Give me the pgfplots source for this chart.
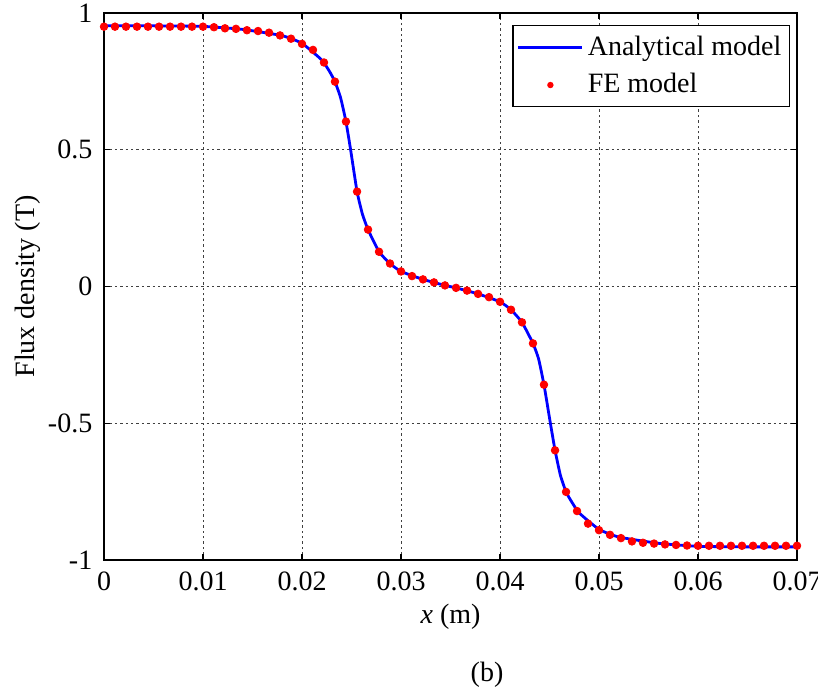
\documentclass[border=0pt]{standalone}
\usepackage{fontspec}
\setmainfont{Liberation Serif}
\usepackage{pgfplots}
\pgfplotsset{compat=1.18}
\usepackage{pgfplotstable}
\pgfplotstableread{
x y
0.00000 0.950
0.00111 0.950
0.00222 0.950
0.00333 0.950
0.00444 0.950
0.00556 0.950
0.00667 0.950
0.00778 0.950
0.00889 0.950
0.01000 0.950
0.01111 0.948
0.01222 0.944
0.01333 0.942
0.01444 0.937
0.01556 0.934
0.01667 0.928
0.01778 0.918
0.01889 0.906
0.02000 0.887
0.02111 0.865
0.02222 0.819
0.02333 0.749
0.02444 0.603
0.02556 0.347
0.02667 0.208
0.02778 0.127
0.02889 0.084
0.03000 0.055
0.03111 0.038
0.03222 0.026
0.03333 0.015
0.03444 0.004
0.03556 -0.005
0.03667 -0.015
0.03778 -0.027
0.03889 -0.039
0.04000 -0.056
0.04111 -0.085
0.04222 -0.131
0.04333 -0.208
0.04444 -0.359
0.04556 -0.599
0.04667 -0.751
0.04778 -0.821
0.04889 -0.867
0.05000 -0.891
0.05111 -0.908
0.05222 -0.920
0.05333 -0.932
0.05444 -0.937
0.05556 -0.940
0.05667 -0.943
0.05778 -0.945
0.05889 -0.947
0.06000 -0.948
0.06111 -0.948
0.06222 -0.948
0.06333 -0.948
0.06444 -0.948
0.06556 -0.948
0.06667 -0.948
0.06778 -0.948
0.06889 -0.948
0.07000 -0.948
}\fedata
\pgfplotstableread{
x y
0.00000 0.953
0.00500 0.953
0.01000 0.951
0.01400 0.940
0.01800 0.917
0.02000 0.889
0.02200 0.828
0.02280 0.785
0.02333 0.749
0.02390 0.690
0.02444 0.603
0.02491 0.500
0.02556 0.347
0.02610 0.265
0.02667 0.208
0.02778 0.127
0.02889 0.084
0.03000 0.055
0.03222 0.026
0.03444 0.004
0.03556 -0.005
0.03778 -0.027
0.04000 -0.056
0.04111 -0.085
0.04222 -0.131
0.04333 -0.208
0.04390 -0.265
0.04444 -0.359
0.04509 -0.500
0.04556 -0.599
0.04610 -0.690
0.04667 -0.751
0.04720 -0.785
0.04800 -0.828
0.05000 -0.888
0.05200 -0.916
0.05600 -0.939
0.06000 -0.950
0.06500 -0.952
0.07000 -0.952
}\andata
\begin{document}
\begin{tikzpicture}
\fontsize{14}{16}\selectfont
\path[use as bounding box] (0,0) rectangle (409pt,344.5pt);
\begin{axis}[
  at={(52pt,64.5pt)}, anchor=south west,
  width=346.5pt, height=273.5pt, scale only axis,
  xmin=0, xmax=0.07, ymin=-1, ymax=1,
  xtick={0,0.01,0.02,0.03,0.04,0.05,0.06,0.07},
  ytick={-1,-0.5,0,0.5,1},
  scaled x ticks=false, scaled y ticks=false,
  /pgf/number format/assume math mode=true,
  /pgf/number format/fixed,
  /pgf/number format/precision=2,
  tick align=inside, major tick length=3pt,
  tick style={black, line width=0.6pt},
  axis line style={line width=0.8pt},
  grid=major,
  major grid style={black!75, line width=0.5pt, dash pattern=on 1.2pt off 1.5pt},
  ticklabel style={font=\fontsize{14}{16}\selectfont},
  xticklabel style={yshift=-1pt},
  yticklabel style={xshift=-1pt},
  label style={font=\fontsize{14}{16}\selectfont},
  xlabel={\textit{x} (m)},
  ylabel={Flux density (T)},
  xlabel style={yshift=3pt},
  ylabel style={yshift=-6pt},
  legend style={at={(1,1)}, xshift=-3.5pt, yshift=-6pt, anchor=north east,
    draw=black, line width=0.6pt, font=\fontsize{14}{16}\selectfont,
    inner xsep=2pt, inner ysep=3pt, row sep=3pt, cells={anchor=west}},
  legend cell align=left,
]
\addplot[blue, line width=1.4pt, smooth, tension=0.3,
  legend image code/.code={\draw[blue, line width=1.4pt] (0pt,0pt) -- (32pt,0pt);}]
  table[x=x,y=y] {\andata};
\addlegendentry{Analytical model}
\addplot[only marks, mark=*, mark size=1.9pt, red, mark options={draw=red, fill=red},
  legend image code/.code={\path[draw=none,fill=none] (0pt,0pt) -- (32pt,0pt); \fill[red, draw=none] (16pt,0pt) circle (1.6pt);}]
  table[x=x,y=y] {\fedata};
\addlegendentry{FE model}
\end{axis}
\node at (243.5pt,7pt) {(b)};
\end{tikzpicture}
\end{document}
